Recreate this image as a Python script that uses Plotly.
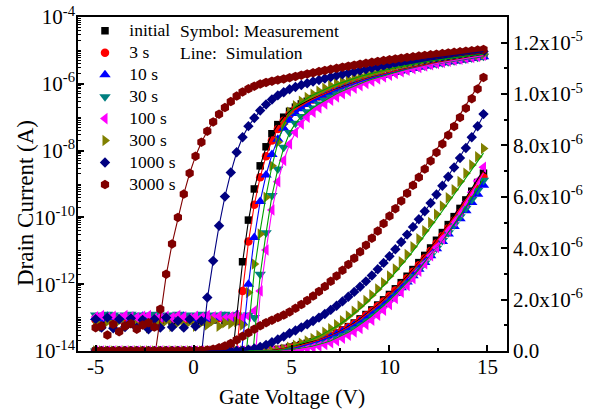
import plotly.graph_objects as go

# ---------------- data ----------------
VG = [-5.0, -4.7, -4.4, -4.1, -3.8, -3.5, -3.2, -2.9, -2.6, -2.3, -2.0, -1.7, -1.4, -1.1,
      -0.8, -0.5, -0.2, 0.1, 0.4, 0.7, 1.0, 1.3, 1.6, 1.9, 2.2, 2.5, 2.8, 3.1, 3.4, 3.7,
      4.0, 4.3, 4.6, 4.9, 5.2, 5.5, 5.8, 6.1, 6.4, 6.7, 7.0, 7.3, 7.6, 7.9, 8.2, 8.5, 8.8,
      9.1, 9.4, 9.7, 10.0, 10.3, 10.6, 10.9, 11.2, 11.5, 11.8, 12.1, 12.4, 12.7, 13.0, 13.3,
      13.6, 13.9, 14.2, 14.5, 14.8]

# measured drain current (A)
ID_INITIAL = [9.5e-14, 8.5e-14, 1.0e-13, 8.0e-14, 9.5e-14, 8.5e-14, 7.5e-14, 1.0e-13, 8.0e-14, 9.0e-14,
              1.05e-13, 8.0e-14, 9.5e-14, 7.5e-14, 9.0e-14, 1.0e-13, 8.0e-14, 9.0e-14, 7.5e-14, 9.5e-14,
              8.5e-14, 1.0e-13, 8.0e-14, 9.0e-14,
              1.1e-13, 4.7e-12, 8.3e-11, 7.1e-10, 3.5e-9, 1.3e-8, 3.2e-8, 6.0e-8, 1.0e-7, 1.5e-7,
              2.0e-7, 2.5e-7, 3.0e-7, 3.6e-7, 4.3e-7, 5.1e-7, 6.0e-7, 7.0e-7, 8.2e-7, 9.5e-7,
              1.09e-6, 1.25e-6, 1.42e-6, 1.60e-6, 1.79e-6, 1.99e-6, 2.20e-6, 2.42e-6, 2.66e-6, 2.91e-6,
              3.17e-6, 3.44e-6, 3.72e-6, 4.01e-6, 4.31e-6, 4.61e-6, 4.92e-6, 5.23e-6, 5.55e-6, 5.88e-6,
              6.22e-6, 6.56e-6, 6.92e-6]
ID_3S = [8.5e-14, 1.0e-13, 9.0e-14, 1.05e-13, 8.5e-14, 9.5e-14, 1.0e-13, 8.5e-14, 9.5e-14, 1.05e-13,
         9.0e-14, 8.5e-14, 1.0e-13, 9.0e-14, 1.05e-13, 8.5e-14, 9.5e-14, 1.0e-13, 9.0e-14, 8.5e-14,
         1.0e-13, 9.5e-14, 1.05e-13, 9.0e-14, 1.0e-13,
         6.3e-13, 1.9e-11, 2.4e-10, 1.6e-9, 6.8e-9, 2.0e-8, 4.4e-8, 7.8e-8, 1.23e-7, 1.74e-7,
         2.2e-7, 2.7e-7, 3.4e-7, 4.15e-7, 4.95e-7, 5.8e-7, 6.8e-7, 7.95e-7, 9.2e-7, 1.06e-6,
         1.21e-6, 1.38e-6, 1.55e-6, 1.74e-6, 1.93e-6, 2.14e-6, 2.35e-6, 2.58e-6, 2.83e-6, 3.08e-6,
         3.34e-6, 3.61e-6, 3.89e-6, 4.18e-6, 4.48e-6, 4.78e-6, 5.08e-6, 5.39e-6, 5.71e-6, 6.04e-6,
         6.37e-6, 6.75e-6]
ID_10S = [1.0e-13, 9.0e-14, 1.1e-13, 9.5e-14, 8.5e-14, 1.05e-13, 9.0e-14, 1.0e-13, 1.1e-13, 8.5e-14,
          9.5e-14, 1.05e-13, 9.0e-14, 1.0e-13, 8.5e-14, 1.1e-13, 9.5e-14, 8.5e-14, 1.0e-13, 9.0e-14,
          1.05e-13, 9.5e-14, 1.1e-13, 9.0e-14, 1.2e-13, 7.0e-14,
          1.0e-12, 2.5e-11, 3.0e-10, 1.86e-9, 7.6e-9, 2.2e-8, 4.7e-8, 8.1e-8, 1.29e-7, 1.78e-7,
          2.4e-7, 3.1e-7, 3.8e-7, 4.6e-7, 5.5e-7, 6.5e-7, 7.6e-7, 8.8e-7, 1.01e-6, 1.15e-6,
          1.31e-6, 1.47e-6, 1.65e-6, 1.83e-6, 2.03e-6, 2.24e-6, 2.46e-6, 2.69e-6, 2.93e-6, 3.18e-6,
          3.44e-6, 3.71e-6, 3.98e-6, 4.26e-6, 4.55e-6, 4.85e-6, 5.15e-6, 5.46e-6, 5.78e-6, 6.1e-6,
          6.45e-6]
ID_30S = [1.2e-13, 1.15e-13, 1.25e-13, 1.2e-13, 1.1e-13, 1.2e-13, 1.25e-13, 1.15e-13, 1.2e-13, 1.1e-13,
          1.25e-13, 1.2e-13, 1.15e-13, 1.2e-13, 1.25e-13, 1.1e-13, 1.2e-13, 1.15e-13, 1.25e-13, 1.2e-13,
          1.1e-13, 1.2e-13, 1.25e-13, 1.15e-13, 1.2e-13, 1.1e-13, 1.2e-13, 1.0e-13,
          2.0e-12, 3.5e-11, 4.5e-10, 2.8e-9, 1.26e-8, 3.5e-8, 6.6e-8, 1.05e-7, 1.45e-7, 1.9e-7,
          2.5e-7, 3.2e-7, 4.0e-7, 5.0e-7, 6.1e-7, 7.3e-7, 8.7e-7, 1.02e-6, 1.18e-6, 1.36e-6,
          1.55e-6, 1.75e-6, 1.96e-6, 2.18e-6, 2.41e-6, 2.65e-6, 2.9e-6, 3.16e-6, 3.43e-6, 3.71e-6,
          4.0e-6, 4.3e-6, 4.6e-6, 4.91e-6, 5.23e-6, 5.56e-6, 5.9e-6, 6.25e-6, 6.65e-6]
ID_100S = [1.05e-13, 1.15e-13, 1.0e-13, 1.1e-13, 9.5e-14, 1.15e-13, 1.05e-13, 1.0e-13, 1.1e-13, 1.15e-13,
           9.5e-14, 1.05e-13, 1.1e-13, 1.0e-13, 1.15e-13, 1.05e-13, 9.5e-14, 1.1e-13, 1.0e-13, 1.15e-13,
           1.05e-13, 1.1e-13, 9.5e-14, 1.05e-13, 1.15e-13, 1.0e-13, 1.1e-13,
           1.6e-13, 6.3e-13, 1.05e-11, 1.66e-10, 1.17e-9, 5.1e-9, 1.58e-8, 3.5e-8, 6.3e-8, 1.0e-7,
           1.41e-7, 1.9e-7, 2.5e-7, 3.2e-7, 4.0e-7, 5.0e-7, 6.1e-7, 7.4e-7, 8.8e-7, 1.03e-6,
           1.2e-6, 1.39e-6, 1.59e-6, 1.81e-6, 2.04e-6, 2.29e-6, 2.55e-6, 2.82e-6, 3.1e-6, 3.4e-6,
           3.71e-6, 4.03e-6, 4.36e-6, 4.7e-6, 5.05e-6, 5.41e-6, 5.78e-6, 6.18e-6, 6.62e-6, 7.15e-6]
ID_300S = [7.0e-14, 5.5e-14, 7.5e-14, 6.0e-14, 8.0e-14, 5.5e-14, 7.0e-14, 6.0e-14, 7.5e-14, 5.0e-14,
           7.0e-14, 6.0e-14, 8.0e-14, 5.5e-14, 7.0e-14, 6.0e-14, 7.5e-14, 5.5e-14, 7.0e-14, 6.0e-14,
           8.0e-14, 5.5e-14, 7.0e-14, 6.5e-14, 7.5e-14, 6.0e-14,
           5.6e-13, 4.0e-12, 3.2e-11, 4.0e-10, 3.5e-9, 1.78e-8, 6.3e-8, 1.41e-7, 2.2e-7, 3.0e-7,
           3.9e-7, 4.9e-7, 6.0e-7, 7.3e-7, 8.7e-7, 1.02e-6, 1.18e-6, 1.36e-6, 1.55e-6, 1.75e-6,
           1.96e-6, 2.18e-6, 2.41e-6, 2.66e-6, 2.92e-6, 3.19e-6, 3.47e-6, 3.76e-6, 4.06e-6, 4.37e-6,
           4.68e-6, 5.0e-6, 5.32e-6, 5.64e-6, 5.96e-6, 6.28e-6, 6.6e-6, 6.92e-6, 7.24e-6, 7.56e-6,
           7.88e-6]
ID_1000S = [9.0e-14, 5.0e-14, 1.0e-13, 4.8e-14, 9.0e-14, 5.2e-14, 9.5e-14, 5.0e-14, 8.5e-14, 4.5e-14,
            9.0e-14, 5.0e-14, 1.0e-13, 5.2e-14, 8.0e-14, 5.0e-14, 9.0e-14, 5.5e-14, 8.0e-14,
            4.0e-13, 5.0e-12, 5.6e-11, 4.2e-10, 2.2e-9, 8.9e-9, 2.5e-8, 5.4e-8, 9.5e-8, 1.58e-7,
            2.4e-7, 3.4e-7, 4.5e-7, 5.6e-7, 6.9e-7, 8.0e-7, 9.2e-7, 1.04e-6, 1.17e-6, 1.3e-6,
            1.44e-6, 1.6e-6, 1.76e-6, 1.93e-6, 2.11e-6, 2.3e-6, 2.5e-6, 2.71e-6, 2.94e-6, 3.18e-6,
            3.43e-6, 3.69e-6, 3.96e-6, 4.24e-6, 4.53e-6, 4.83e-6, 5.13e-6, 5.44e-6, 5.76e-6, 6.09e-6,
            6.43e-6, 6.78e-6, 7.14e-6, 7.51e-6, 7.9e-6, 8.32e-6, 8.75e-6, 9.22e-6]
ID_3000S = [5.0e-14, 5.6e-14, 3.0e-14, 6.3e-14, 3.8e-14, 5.6e-14, 6.6e-14, 4.5e-14, 6.0e-14, 7.0e-14,
            5.2e-14,
            1.78e-13, 2.0e-12, 1.6e-11, 1.0e-10, 5.0e-10, 2.1e-9, 6.8e-9, 1.78e-8, 3.8e-8, 7.2e-8,
            1.23e-7, 1.95e-7, 2.95e-7, 4.3e-7, 5.7e-7, 7.1e-7, 8.5e-7, 9.8e-7, 1.1e-6, 1.2e-6,
            1.3e-6, 1.4e-6, 1.52e-6, 1.66e-6, 1.81e-6, 1.97e-6, 2.14e-6, 2.32e-6, 2.51e-6, 2.71e-6,
            2.92e-6, 3.14e-6, 3.37e-6, 3.61e-6, 3.86e-6, 4.12e-6, 4.39e-6, 4.67e-6, 4.96e-6, 5.25e-6,
            5.54e-6, 5.84e-6, 6.14e-6, 6.45e-6, 6.76e-6, 7.08e-6, 7.4e-6, 7.73e-6, 8.06e-6, 8.4e-6,
            8.74e-6, 9.09e-6, 9.45e-6, 9.82e-6, 1.02e-5, 1.065e-5]

# simulated drain current (A); None where the simulation is not drawn
SIM_INITIAL = [None] * 23 + [
    2.5e-15, 1.0e-13, 4.5e-12, 7.9e-11, 7.1e-10, 3.5e-9, 1.26e-8, 3.2e-8, 6.0e-8, 1.0e-7,
    1.5e-7, 2.0e-7, 2.5e-7, 3.0e-7, 3.6e-7, 4.3e-7, 5.1e-7, 6.0e-7, 7.0e-7, 8.2e-7,
    9.5e-7, 1.09e-6, 1.25e-6, 1.42e-6, 1.6e-6, 1.79e-6, 1.99e-6, 2.2e-6, 2.42e-6, 2.66e-6,
    2.91e-6, 3.17e-6, 3.44e-6, 3.72e-6, 4.01e-6, 4.31e-6, 4.62e-6, 4.94e-6, 5.27e-6, 5.61e-6,
    5.96e-6, 6.32e-6, 6.68e-6, 7.05e-6]
SIM_3S = [None] * 23 + [
    1.6e-16, 1.26e-14, 6.0e-13, 1.8e-11, 2.4e-10, 1.6e-9, 6.8e-9, 2.0e-8, 4.4e-8, 7.8e-8,
    1.23e-7, 1.74e-7, 2.25e-7, 2.8e-7, 3.45e-7, 4.2e-7, 5.0e-7, 5.85e-7, 6.85e-7, 8.0e-7,
    9.25e-7, 1.065e-6, 1.22e-6, 1.39e-6, 1.57e-6, 1.76e-6, 1.96e-6, 2.17e-6, 2.39e-6, 2.62e-6,
    2.87e-6, 3.13e-6, 3.4e-6, 3.68e-6, 3.97e-6, 4.27e-6, 4.57e-6, 4.88e-6, 5.2e-6, 5.53e-6,
    5.87e-6, 6.22e-6, 6.58e-6, 6.98e-6]
SIM_10S = [None] * 24 + [
    3.2e-16, 2.0e-14, 9.5e-13, 2.4e-11, 3.0e-10, 1.86e-9, 7.6e-9, 2.2e-8, 4.7e-8, 8.1e-8,
    1.29e-7, 1.8e-7, 2.4e-7, 3.1e-7, 3.8e-7, 4.6e-7, 5.5e-7, 6.5e-7, 7.6e-7, 8.8e-7,
    1.01e-6, 1.15e-6, 1.31e-6, 1.48e-6, 1.66e-6, 1.85e-6, 2.05e-6, 2.26e-6, 2.48e-6, 2.71e-6,
    2.95e-6, 3.2e-6, 3.46e-6, 3.73e-6, 4.01e-6, 4.3e-6, 4.6e-6, 4.91e-6, 5.23e-6, 5.56e-6,
    5.9e-6, 6.25e-6, 6.62e-6]
SIM_30S = [None] * 26 + [
    3.2e-16, 2.5e-14, 1.9e-12, 3.4e-11, 4.4e-10, 2.8e-9, 1.2e-8, 3.4e-8, 6.5e-8, 1.04e-7,
    1.45e-7, 1.92e-7, 2.5e-7, 3.2e-7, 4.0e-7, 5.0e-7, 6.1e-7, 7.3e-7, 8.7e-7, 1.02e-6,
    1.19e-6, 1.37e-6, 1.56e-6, 1.76e-6, 1.97e-6, 2.19e-6, 2.42e-6, 2.66e-6, 2.91e-6, 3.17e-6,
    3.44e-6, 3.72e-6, 4.01e-6, 4.31e-6, 4.62e-6, 4.94e-6, 5.27e-6, 5.61e-6, 5.96e-6, 6.32e-6,
    6.7e-6]
SIM_100S = [None] * 27 + [
    2.5e-15, 5.0e-13, 1.0e-11, 1.6e-10, 1.15e-9, 5.0e-9, 1.55e-8, 3.5e-8, 6.3e-8, 1.0e-7,
    1.41e-7, 1.9e-7, 2.5e-7, 3.2e-7, 4.0e-7, 4.95e-7, 6.0e-7, 7.2e-7, 8.6e-7, 1.01e-6,
    1.18e-6, 1.37e-6, 1.57e-6, 1.79e-6, 2.02e-6, 2.27e-6, 2.53e-6, 2.8e-6, 3.08e-6, 3.38e-6,
    3.69e-6, 4.01e-6, 4.34e-6, 4.68e-6, 5.03e-6, 5.39e-6, 5.76e-6, 6.14e-6, 6.53e-6, 6.93e-6]
SIM_300S = [None] * 25 + [
    6.3e-16, 4.0e-14, 2.5e-12, 4.0e-11, 4.5e-10, 3.4e-9, 1.7e-8, 6.0e-8, 1.35e-7, 2.1e-7,
    2.85e-7, 3.7e-7, 4.65e-7, 5.7e-7, 6.9e-7, 8.2e-7, 9.6e-7, 1.11e-6, 1.28e-6, 1.46e-6,
    1.65e-6, 1.85e-6, 2.07e-6, 2.3e-6, 2.54e-6, 2.79e-6, 3.05e-6, 3.32e-6, 3.6e-6, 3.89e-6,
    4.19e-6, 4.5e-6, 4.81e-6, 5.13e-6, 5.45e-6, 5.77e-6, 6.09e-6, 6.41e-6, 6.73e-6, 7.05e-6,
    7.37e-6, 7.7e-6]
SIM_1000S = [None] * 17 + [
    1.6e-16, 7.9e-15, 3.5e-13, 5.0e-12, 5.6e-11, 4.2e-10, 2.2e-9, 8.9e-9, 2.5e-8, 5.4e-8,
    9.5e-8, 1.58e-7, 2.4e-7, 3.35e-7, 4.4e-7, 5.5e-7, 6.7e-7, 7.9e-7, 9.1e-7, 1.03e-6,
    1.16e-6, 1.29e-6, 1.43e-6, 1.58e-6, 1.74e-6, 1.91e-6, 2.09e-6, 2.28e-6, 2.48e-6, 2.69e-6,
    2.91e-6, 3.14e-6, 3.39e-6, 3.65e-6, 3.92e-6, 4.2e-6, 4.49e-6, 4.79e-6, 5.1e-6, 5.42e-6,
    5.75e-6, 6.09e-6, 6.44e-6, 6.8e-6, 7.17e-6, 7.55e-6, 7.94e-6, 8.34e-6, 8.75e-6, 9.17e-6]
SIM_3000S = [None] * 10 + [
    5.6e-15, 1.0e-13, 1.8e-12, 1.6e-11, 1.0e-10, 5.0e-10, 2.1e-9, 6.8e-9, 1.78e-8, 3.8e-8,
    7.2e-8, 1.23e-7, 1.95e-7, 2.95e-7, 4.3e-7, 5.7e-7, 7.1e-7, 8.5e-7, 9.8e-7, 1.1e-6,
    1.21e-6, 1.32e-6, 1.44e-6, 1.57e-6, 1.71e-6, 1.86e-6, 2.02e-6, 2.19e-6, 2.37e-6, 2.56e-6,
    2.76e-6, 2.97e-6, 3.19e-6, 3.42e-6, 3.66e-6, 3.91e-6, 4.17e-6, 4.44e-6, 4.72e-6, 5.01e-6,
    5.3e-6, 5.6e-6, 5.9e-6, 6.21e-6, 6.52e-6, 6.84e-6, 7.16e-6, 7.49e-6, 7.82e-6, 8.16e-6,
    8.5e-6, 8.85e-6, 9.2e-6, 9.56e-6, 9.92e-6, 1.029e-5, 1.066e-5]

LABELS = ["initial", "3 s", "10 s", "30 s", "100 s", "300 s", "1000 s", "3000 s"]
MEASURED = [ID_INITIAL, ID_3S, ID_10S, ID_30S, ID_100S, ID_300S, ID_1000S, ID_3000S]
SIMULATED = [SIM_INITIAL, SIM_3S, SIM_10S, SIM_30S, SIM_100S, SIM_300S, SIM_1000S, SIM_3000S]

LOG_TICKVALS = [1e-14, 1e-12, 1e-10, 1e-8, 1e-6, 1e-4]
LOG_TICKTEXT = ["10<sup>-14</sup>", "10<sup>-12</sup>", "10<sup>-10</sup>",
                "10<sup>-8</sup>", "10<sup>-6</sup>", "10<sup>-4</sup>"]
LIN_TICKVALS = [0, 2e-6, 4e-6, 6e-6, 8e-6, 1e-5, 1.2e-5]
LIN_TICKTEXT = ["0.0", "2.0x10<sup>-6</sup>", "4.0x10<sup>-6</sup>", "6.0x10<sup>-6</sup>",
                "8.0x10<sup>-6</sup>", "1.0x10<sup>-5</sup>", "1.2x10<sup>-5</sup>"]
X_TICKVALS = [-5, 0, 5, 10, 15]
X_TICKTEXT = ["-5", "0", "5", "10", "15"]

# ---------------- styles ----------------
MARKER_COLORS = ["#000000", "#FF0000", "#0000FF", "#008080", "#FF00FF", "#808000", "#000080", "#800000"]
LINE_COLORS = ["#000000", "#FF0000", "#0000FF", "#00A000", "#FF00FF", "#00A000", "#000080", "#800000"]
SYMBOLS = ["square", "circle", "triangle-up", "triangle-down", "triangle-left",
           "triangle-right", "diamond", "hexagon"]
SIZES = [7.5, 8.5, 10, 10, 10, 10, 8, 9.5]

for arr in MEASURED + SIMULATED:
    assert len(arr) == len(VG), len(arr)

FONT = "Liberation Serif"
fig = go.Figure()

for lab, meas, col, sym, sz in zip(LABELS, MEASURED, MARKER_COLORS, SYMBOLS, SIZES):
    mk = dict(symbol=sym, size=sz, color=col, line=dict(width=0))
    fig.add_trace(go.Scatter(x=VG, y=meas, mode="markers", marker=mk, yaxis="y",
                             name="<span style='font-size:17.5px'> %s</span>" % lab,
                             showlegend=True))
    fig.add_trace(go.Scatter(x=VG, y=meas, mode="markers", marker=mk, yaxis="y2",
                             showlegend=False))

for sim, col in zip(SIMULATED, LINE_COLORS):
    fig.add_trace(go.Scatter(x=VG, y=sim, mode="lines", line=dict(color=col, width=1.1),
                             yaxis="y", showlegend=False))
    fig.add_trace(go.Scatter(x=VG, y=sim, mode="lines", line=dict(color=col, width=1.1),
                             yaxis="y2", showlegend=False))

axis_common = dict(showline=True, linewidth=1.5, linecolor="black", showgrid=False,
                   zeroline=False, ticks="inside", ticklen=6, tickwidth=1.5, tickcolor="black",
                   tickfont=dict(family=FONT, size=21, color="black"))

# odd decades get a minor tick too
LOG_MINOR = [m * 10.0 ** e for e in range(-14, -4) for m in range(2, 10)] + \
            [1e-13, 1e-11, 1e-9, 1e-7, 1e-5]

fig.update_layout(
    width=596, height=411,
    margin=dict(l=78, r=89, t=17, b=60, autoexpand=False),
    paper_bgcolor="white", plot_bgcolor="white",
    font=dict(family=FONT, size=21, color="black"),
    showlegend=True,
    legend=dict(x=0.0163, y=1.0069, xanchor="left", yanchor="top",
                font=dict(family=FONT, size=14.6, color="black"),
                bgcolor="rgba(0,0,0,0)", borderwidth=0, tracegroupgap=0,
                traceorder="normal"),
    xaxis=dict(range=[-5.9, 16], tickmode="array", tickvals=X_TICKVALS, ticktext=X_TICKTEXT,
               mirror=True, ticklabelstandoff=-4,
               minor=dict(tickmode="array", tickvals=[-2.5, 2.5, 7.5, 12.5], ticks="inside",
                          ticklen=3.5, tickwidth=1.5, tickcolor="black"),
               **axis_common),
    yaxis=dict(type="log", range=[-14, -4], tickmode="array", tickvals=LOG_TICKVALS,
               ticktext=LOG_TICKTEXT, ticklabelstandoff=-3,
               minor=dict(tickmode="array", tickvals=LOG_MINOR,
                          ticks="inside", ticklen=3.5, tickwidth=1.2, tickcolor="black"),
               **axis_common),
    yaxis2=dict(overlaying="y", side="right", anchor="x", range=[0, 1.3e-5],
                tickmode="array", tickvals=LIN_TICKVALS, ticktext=LIN_TICKTEXT,
                minor=dict(tickmode="array",
                           tickvals=[1e-6, 3e-6, 5e-6, 7e-6, 9e-6, 1.1e-5],
                           ticks="inside", ticklen=3.5, tickwidth=1.5, tickcolor="black"),
                **axis_common),
    annotations=[
        dict(text="Symbol: Measurement", x=0.2338, y=0.959, xref="paper", yref="paper",
             xanchor="left", yanchor="middle", showarrow=False,
             font=dict(family=FONT, size=17.5, color="black")),
        dict(text="Line:  Simulation", x=0.2338, y=0.8931, xref="paper", yref="paper",
             xanchor="left", yanchor="middle", showarrow=False,
             font=dict(family=FONT, size=17.5, color="black")),
        dict(text="Gate Voltage (V)", x=0.4988, y=-0.1368, xref="paper", yref="paper",
             xanchor="center", yanchor="middle", showarrow=False,
             font=dict(family=FONT, size=21.5, color="black")),
        dict(text="Drain Current (A)", x=-0.1235, y=0.4431, xref="paper", yref="paper",
             xanchor="center", yanchor="middle", showarrow=False, textangle=-90,
             font=dict(family=FONT, size=23, color="black")),
    ],
)

fig.write_html("out.html", config={"displayModeBar": False},
               post_script="document.body.style.margin='0px';document.body.style.overflow='hidden';")
